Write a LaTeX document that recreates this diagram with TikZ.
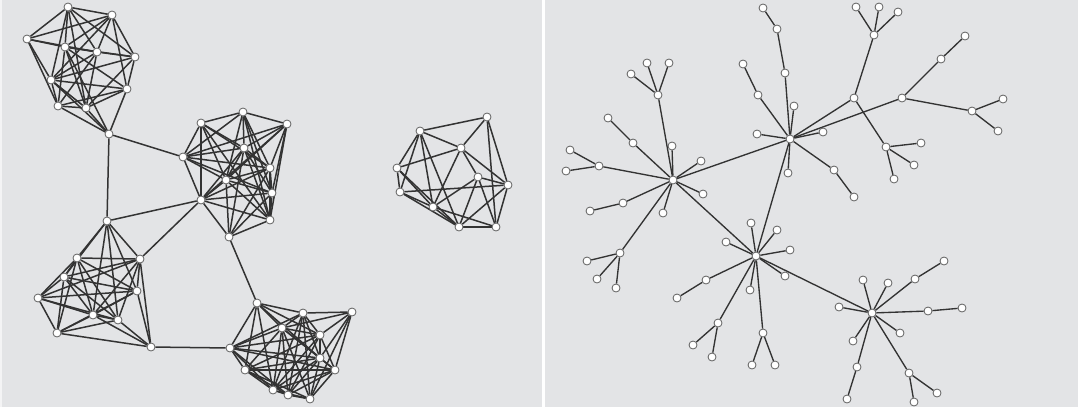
\documentclass[tikz,border=0pt]{standalone}
\usepackage{tikz}
\usetikzlibrary{calc}
\pgfdeclarelayer{bg}
\pgfdeclarelayer{edges}
\pgfsetlayers{bg,edges,main}
\definecolor{panelgray}{HTML}{E3E4E6}
\definecolor{linkgray}{HTML}{333333}
\tikzset{
  vtx/.style={circle, draw=gray!75!black, fill=white, line width=0.8pt, minimum size=8pt, inner sep=0pt},
  lnk/.style={draw=linkgray, line width=1.5pt},
  treelnk/.style={draw=linkgray, line width=1.35pt}
}

\begin{document}
\begin{tikzpicture}[x=1pt, y=-1pt]

    % Canvas and panel divider
    \useasboundingbox (0,0) rectangle (1078,407);
    \begin{pgfonlayer}{bg}
        \fill[panelgray] (0,0) rectangle (1078,407);
        \fill[white] (542,0) rectangle (545,407);
        \fill[white!60!panelgray] (0,0) rectangle (1.5,407);
    \end{pgfonlayer}

    % Left panel: top cluster
    \foreach \n/\x/\y in {tl1/68/7, tl2/112/15, tl3/27/39, tl4/65/47, tl5/97/52, tl6/135/57,
                          tl7/51/80, tl8/127/89, tl9/58/106, tl10/86/108, tlb/109/134}
        \node[vtx] (\n) at (\x,\y) {};
    \begin{pgfonlayer}{edges}
        \foreach \a/\b in {1/2,1/3,1/4,1/5,1/6,1/7,1/10,2/3,2/4,2/5,2/6,2/7,2/8,3/4,3/5,3/7,3/9,
                           4/5,4/6,4/8,4/9,4/10,5/6,5/7,5/9,5/10,6/7,6/8,6/10,7/8,7/9,7/10,
                           8/9,8/10,9/10,4/b,7/b,8/b,9/b,10/b}
            \draw[lnk] (tl\a) -- (tl\b);
    \end{pgfonlayer}

    % Left panel: middle cluster
    \foreach \n/\x/\y in {mc1/243/112, mc2/201/123, mc3/287/124, mc4/183/157, mc5/244/148, mc6/270/168,
                          mc7/226/180, mc8/272/193, mc9/201/200, mc10/270/220, mc11/229/237}
        \node[vtx] (\n) at (\x,\y) {};
    \begin{pgfonlayer}{edges}
        \foreach \a/\b in {1/2,1/3,1/4,1/5,1/6,1/7,1/8,1/10,2/4,2/5,2/6,2/7,2/9,2/10,
                           3/4,3/5,3/6,3/7,3/8,3/9,3/10,4/5,4/6,4/7,4/8,4/9,
                           5/6,5/7,5/8,5/9,5/10,5/11,6/7,6/8,6/9,6/10,6/11,
                           7/8,7/9,7/10,7/11,8/9,8/10,8/11,9/10,9/11,10/11}
            \draw[lnk] (mc\a) -- (mc\b);
    \end{pgfonlayer}

    % Left panel: lower left cluster
    \foreach \n/\x/\y in {bl1/107/221, bl2/77/258, bl3/140/259, bl4/64/277, bl5/38/298,
                          bl6/137/291, bl7/93/315, bl8/118/320, bl9/57/333, bl10/151/347}
        \node[vtx] (\n) at (\x,\y) {};
    \begin{pgfonlayer}{edges}
        \foreach \a/\b in {1/2,1/3,1/4,1/6,1/7,1/8,2/3,2/4,2/5,2/6,2/7,2/8,2/9,
                           3/4,3/5,3/6,3/7,3/8,3/10,4/5,4/6,4/7,4/8,4/9,
                           5/6,5/7,5/8,5/9,6/7,6/9,6/10,7/8,7/9,7/10,8/9,8/10,9/10}
            \draw[lnk] (bl\a) -- (bl\b);
    \end{pgfonlayer}

    % Left panel: lower right cluster
    \foreach \n/\x/\y in {br1/257/303, br2/303/313, br3/352/312, br4/282/328, br5/320/335, br6/230/348,
                          br7/320/358, br8/245/370, br9/335/370, br10/273/390, br11/288/395, br12/310/399}
        \node[vtx] (\n) at (\x,\y) {};
    \begin{pgfonlayer}{edges}
        \foreach \a/\b in {1/2,1/4,1/5,1/6,1/7,1/8,1/10,2/3,2/4,2/5,2/6,2/7,2/10,2/11,2/12,
                           3/4,3/5,3/7,3/9,3/12,4/5,4/6,4/7,4/8,4/9,4/10,4/11,4/12,
                           5/6,5/7,5/8,5/9,5/10,5/11,6/7,6/8,6/9,6/10,6/11,
                           7/8,7/9,7/10,7/11,7/12,8/9,8/10,8/11,8/12,9/10,9/11,9/12,
                           10/11,10/12,11/12}
            \draw[lnk] (br\a) -- (br\b);
    \end{pgfonlayer}

    % Left panel: separate cluster
    \foreach \n/\x/\y in {is1/487/117, is2/420/131, is3/461/148, is4/397/168, is5/478/177,
                          is6/508/185, is7/400/192, is8/433/207, is9/459/227, is10/496/227}
        \node[vtx] (\n) at (\x,\y) {};
    \begin{pgfonlayer}{edges}
        \foreach \a/\b in {1/2,1/3,1/6,1/10,2/3,2/4,2/7,2/8,2/9,3/4,3/5,3/6,3/8,
                           4/7,4/8,4/9,5/6,5/8,5/9,5/10,6/7,6/9,6/10,7/8,7/9,8/9,8/10,9/10}
            \draw[lnk] (is\a) -- (is\b);
    \end{pgfonlayer}

    % Bridges between clusters
    \begin{pgfonlayer}{edges}
        \draw[lnk] (tlb) -- (mc4);
        \draw[lnk] (tlb) -- (bl1);
        \draw[lnk] (bl1) -- (mc9);
        \draw[lnk] (bl3) -- (mc9);
        \draw[lnk] (bl10) -- (br6);
        \draw[lnk] (mc11) -- (br1);
    \end{pgfonlayer}

    % Right panel: tree
    \foreach \n/\x/\y in {ha/673/180, hb/790/139, hc/756/256, hd/872/313, he/854/98, hf/902/98,
                          a1/658/95, a1x/631/74, a1y/647/63, a1z/669/63, a2/672/146, a3/701/161,
                          a4/703/194, a5/633/143, a5x/608/118, a6/599/166, a6x/570/150, a6y/566/171,
                          a7/623/203, a7x/590/211, a8/663/213, a9/620/253, a9x/587/261, a9y/597/279,
                          a9z/616/288,
                          b1/758/95, b1x/743/64, b2/757/134, b3/794/106, b4/785/73, b4x/777/29,
                          b4y/763/8, b5/788/173, b6/823/132, b7/834/170, b7x/854/197,
                          e1/874/35, e1x/856/7, e1y/879/7, e1z/898/12, e2/886/147, e2x/921/143,
                          e2y/914/165, e2z/894/179,
                          f1/941/59, f1x/965/36, f2/972/111, f2x/1003/99, f2y/998/131,
                          c1/751/223, c2/777/230, c3/790/250, c4/726/242, c5/785/276, c6/750/290,
                          c7/706/280, c7x/677/298, c8/718/323, c8x/693/345, c8y/712/357,
                          c9/763/333, c9x/752/365, c9y/775/365,
                          d1/863/280, d2/888/283, d3/915/279, d3x/944/261, d4/839/307, d5/928/311,
                          d5x/962/308, d6/900/333, d7/853/341, d8/857/367, d8x/847/399,
                          d9/909/373, d9x/937/393, d9y/914/402}
        \node[vtx] (\n) at (\x,\y) {};
    \begin{pgfonlayer}{edges}
        \foreach \a/\b in {ha/hb, ha/hc, hb/hc, hc/hd, hb/he, hb/hf,
                           ha/a1, a1/a1x, a1/a1y, a1/a1z, ha/a2, ha/a3, ha/a4, ha/a5, a5/a5x,
                           ha/a6, a6/a6x, a6/a6y, ha/a7, a7/a7x, ha/a8, ha/a9, a9/a9x, a9/a9y, a9/a9z,
                           hb/b1, b1/b1x, hb/b2, hb/b3, hb/b4, b4/b4x, b4x/b4y, hb/b5, hb/b6,
                           hb/b7, b7/b7x,
                           he/e1, e1/e1x, e1/e1y, e1/e1z, he/e2, e2/e2x, e2/e2y, e2/e2z,
                           hf/f1, f1/f1x, hf/f2, f2/f2x, f2/f2y,
                           hc/c1, hc/c2, hc/c3, hc/c4, hc/c5, hc/c6, hc/c7, c7/c7x,
                           hc/c8, c8/c8x, c8/c8y, hc/c9, c9/c9x, c9/c9y,
                           hd/d1, hd/d2, hd/d3, d3/d3x, hd/d4, hd/d5, d5/d5x, hd/d6, hd/d7,
                           hd/d8, d8/d8x, hd/d9, d9/d9x, d9/d9y}
            \draw[treelnk] (\a) -- (\b);
    \end{pgfonlayer}

\end{tikzpicture}
\end{document}
